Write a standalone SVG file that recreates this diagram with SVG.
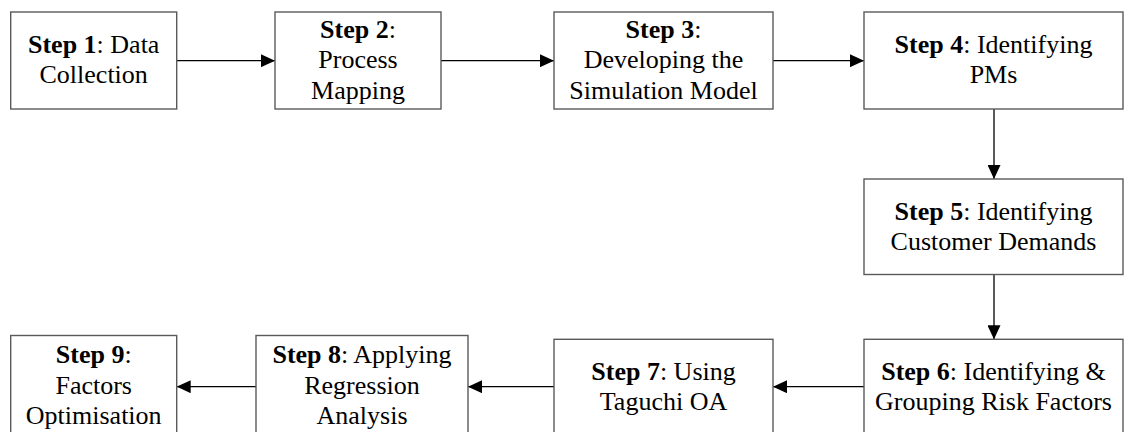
<svg xmlns="http://www.w3.org/2000/svg" width="1125" height="432" viewBox="0 0 1125 432">
  <style>
    .box { fill: #ffffff; stroke: #5a5a5a; stroke-width: 1.4; }
    .lbl { font-family: "Liberation Serif", "Times New Roman", serif; font-size: 26px; fill: #000000; text-anchor: middle; }
    .b { font-weight: bold; }
    .link { fill: none; stroke: #000000; stroke-width: 1.3; marker-end: url(#head); }
  </style>
  <defs>
    <marker id="head" viewBox="0 0 14 13" refX="14" refY="6.5" markerWidth="14" markerHeight="13" markerUnits="userSpaceOnUse" orient="auto">
      <path d="M0,0 L14,6.5 L0,13 Z" fill="#000000"/>
    </marker>
  </defs>
  <rect width="1125" height="432" fill="#ffffff"/>

  <g id="connectors">
    <line class="link" x1="176.7" y1="60.7" x2="275" y2="60.7"/>
    <line class="link" x1="441" y1="60.7" x2="554" y2="60.7"/>
    <line class="link" x1="773" y1="60.7" x2="864" y2="60.7"/>
    <line class="link" x1="994" y1="109" x2="994" y2="179"/>
    <line class="link" x1="994" y1="274.5" x2="994" y2="339.3"/>
    <line class="link" x1="864" y1="386.7" x2="773" y2="386.7"/>
    <line class="link" x1="554" y1="386.7" x2="468" y2="386.7"/>
    <line class="link" x1="256" y1="386.7" x2="176.7" y2="386.7"/>
  </g>

  <g id="step1">
    <rect class="box" x="10.7" y="12" width="166" height="97"/>
    <text class="lbl" x="93.7" y="53.3"><tspan class="b">Step 1</tspan>: Data</text>
    <text class="lbl" x="93.7" y="83.3">Collection</text>
  </g>

  <g id="step2">
    <rect class="box" x="275" y="12" width="166" height="97"/>
    <text class="lbl" x="358" y="38"><tspan class="b">Step 2</tspan>:</text>
    <text class="lbl" x="358" y="68.3">Process</text>
    <text class="lbl" x="358" y="98.6">Mapping</text>
  </g>

  <g id="step3">
    <rect class="box" x="554" y="12" width="219" height="97"/>
    <text class="lbl" x="663.5" y="38"><tspan class="b">Step 3</tspan>:</text>
    <text class="lbl" x="663.5" y="68.3">Developing the</text>
    <text class="lbl" x="663.5" y="98.6">Simulation Model</text>
  </g>

  <g id="step4">
    <rect class="box" x="864" y="12" width="259" height="97"/>
    <text class="lbl" x="993.5" y="53.3"><tspan class="b">Step 4</tspan>: Identifying</text>
    <text class="lbl" x="993.5" y="83.3">PMs</text>
  </g>

  <g id="step5">
    <rect class="box" x="864" y="179" width="259" height="95.5"/>
    <text class="lbl" x="993.5" y="219.6"><tspan class="b">Step 5</tspan>: Identifying</text>
    <text class="lbl" x="993.5" y="249.6">Customer Demands</text>
  </g>

  <g id="step6">
    <rect class="box" x="864" y="339.3" width="259" height="97"/>
    <text class="lbl" x="993.5" y="379.5"><tspan class="b">Step 6</tspan>: Identifying &amp;</text>
    <text class="lbl" x="993.5" y="409.5">Grouping Risk Factors</text>
  </g>

  <g id="step7">
    <rect class="box" x="554" y="339.3" width="219" height="97"/>
    <text class="lbl" x="663.5" y="379.5"><tspan class="b">Step 7</tspan>: Using</text>
    <text class="lbl" x="663.5" y="409.5">Taguchi OA</text>
  </g>

  <g id="step8">
    <rect class="box" x="256" y="335.5" width="212" height="103"/>
    <text class="lbl" x="362" y="363"><tspan class="b">Step 8</tspan>: Applying</text>
    <text class="lbl" x="362" y="393.5">Regression</text>
    <text class="lbl" x="362" y="424">Analysis</text>
  </g>

  <g id="step9">
    <rect class="box" x="10.7" y="335.5" width="166" height="103"/>
    <text class="lbl" x="93.7" y="363"><tspan class="b">Step 9</tspan>:</text>
    <text class="lbl" x="93.7" y="393.5">Factors</text>
    <text class="lbl" x="93.7" y="424">Optimisation</text>
  </g>
</svg>
